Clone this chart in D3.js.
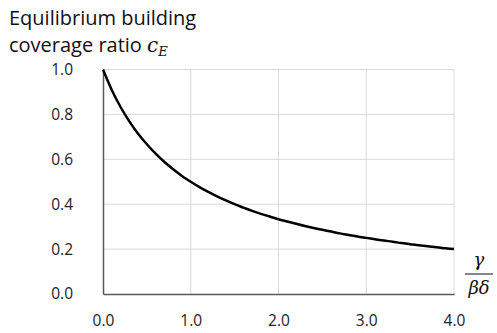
<!DOCTYPE html>
<html><head><meta charset="utf-8">
<script src="https://cdn.jsdelivr.net/npm/d3@7"></script>
<style>body{margin:0;background:#fff}svg{display:block}</style>
</head><body>
<svg id="c" width="497" height="333"></svg>
<script>
const ratioX = [0.0,0.1,0.2,0.3,0.4,0.5,0.6,0.7,0.8,0.9,1.0,1.1,1.2,1.3,1.4,1.5,1.6,1.7,1.8,1.9,2.0,2.1,2.2,2.3,2.4,2.5,2.6,2.7,2.8,2.9,3.0,3.1,3.2,3.3,3.4,3.5,3.6,3.7,3.8,3.9,4.0];
const coverage = [1.000,0.909,0.833,0.769,0.714,0.667,0.625,0.588,0.556,0.526,0.500,0.476,0.455,0.435,0.417,0.400,0.385,0.370,0.357,0.345,0.333,0.323,0.313,0.303,0.294,0.286,0.278,0.270,0.263,0.256,0.250,0.244,0.238,0.233,0.227,0.222,0.217,0.213,0.208,0.204,0.200];
const xTicks = [0,1,2,3,4];
const yTicks = [0,0.2,0.4,0.6,0.8,1.0];
const titleLines = ["Equilibrium building","coverage ratio "];

const svg = d3.select("#c");
const x = d3.scaleLinear().domain([0,4]).range([103,454]);
const y = d3.scaleLinear().domain([0,1]).range([294,69.5]);
const font = "Open Sans, sans-serif";

// gridlines
svg.append("g").selectAll("line").data(yTicks.filter(d=>d>0)).join("line")
  .attr("x1",x(0)).attr("x2",x(4)).attr("y1",d=>y(d)).attr("y2",d=>y(d))
  .attr("stroke","#d9d9d9").attr("stroke-width",1);
svg.append("g").selectAll("line").data(xTicks.filter(d=>d>0)).join("line")
  .attr("x1",d=>x(d)).attr("x2",d=>x(d)).attr("y1",y(0)).attr("y2",y(1))
  .attr("stroke","#d9d9d9").attr("stroke-width",1);

// axes
const xAxis = svg.append("g").attr("transform",`translate(0,${y(0)})`)
  .call(d3.axisBottom(x).tickValues(xTicks).tickSize(0).tickPadding(21).tickFormat(d3.format(".1f")));
const yAxis = svg.append("g").attr("transform",`translate(${x(0)},0)`)
  .call(d3.axisLeft(y).tickValues(yTicks).tickSize(0).tickPadding(30).tickFormat(d3.format(".1f")));
[xAxis,yAxis].forEach(g=>{
  g.select(".domain").attr("stroke","#595959").attr("stroke-width",1.5);
  g.selectAll("text").attr("font-family",font).attr("font-size",15.5).attr("fill","#222");
});

// curve
svg.append("path").datum(ratioX.map((v,i)=>[v,coverage[i]]))
  .attr("d",d3.line().x(d=>x(d[0])).y(d=>y(d[1])).curve(d3.curveMonotoneX))
  .attr("fill","none").attr("stroke","#000").attr("stroke-width",2.5);

// title
svg.append("text").attr("x",9).attr("y",25).attr("font-family",font).attr("font-size",20).attr("fill","#111").text(titleLines[0]);
const t2 = svg.append("text").attr("x",9).attr("y",52).attr("font-family",font).attr("font-size",20).attr("fill","#111");
t2.append("tspan").text(titleLines[1]);
t2.append("tspan").attr("font-family","DejaVu Serif, serif").attr("font-style","italic").attr("font-size",20).text("c");
t2.append("tspan").attr("font-family","DejaVu Serif, serif").attr("font-style","italic").attr("font-size",13).attr("dy",4).text("E");

// x-axis label fraction
const fx = 479;
svg.append("text").attr("x",fx).attr("y",266).attr("text-anchor","middle")
  .attr("font-family","DejaVu Serif, serif").attr("font-style","italic").attr("font-size",18).attr("fill","#111").text("γ");
svg.append("line").attr("x1",fx-14).attr("x2",fx+14).attr("y1",274).attr("y2",274).attr("stroke","#111").attr("stroke-width",1);
svg.append("text").attr("x",fx).attr("y",294).attr("text-anchor","middle")
  .attr("font-family","DejaVu Serif, serif").attr("font-style","italic").attr("font-size",18).attr("fill","#111").text("βδ");
</script>
</body></html>
